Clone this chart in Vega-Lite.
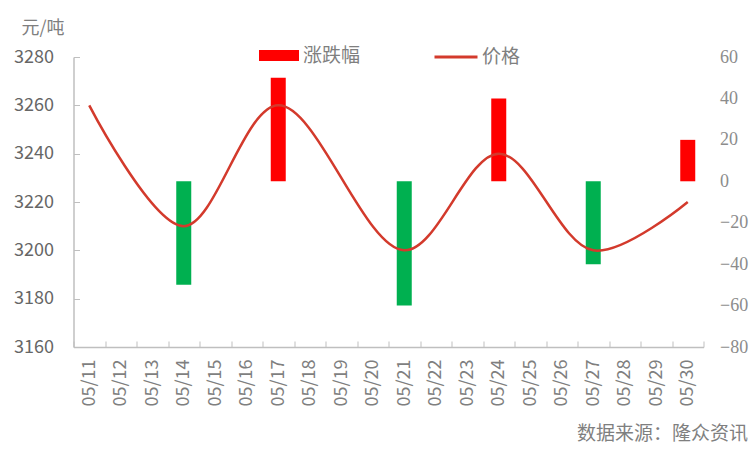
{
  "$schema": "https://vega.github.io/schema/vega-lite/v6.json",
  "width": 630,
  "height": 290,
  "autosize": {"type": "none"},
  "padding": {"left": 73.5, "top": 57, "right": 47.5, "bottom": 103},
  "config": {
    "view": {"stroke": null},
    "font": "Noto Sans CJK SC",
    "axis": {"grid": false, "labelColor": "#7f7f7f", "domainColor": "#bfbfbf", "tickColor": "#bfbfbf"}
  },
  "layer": [
    {
      "data": {
        "values": [
          {"date": "05/14", "chg": -50, "series": "涨跌幅"},
          {"date": "05/17", "chg": 50, "series": "涨跌幅"},
          {"date": "05/21", "chg": -60, "series": "涨跌幅"},
          {"date": "05/24", "chg": 40, "series": "涨跌幅"},
          {"date": "05/27", "chg": -40, "series": "涨跌幅"},
          {"date": "05/30", "chg": 20, "series": "涨跌幅"}
        ]
      },
      "mark": {"type": "bar", "width": 15},
      "encoding": {
        "x": {
          "field": "date",
          "type": "ordinal",
          "sort": null,
          "scale": {
            "domain": ["05/11", "05/12", "05/13", "05/14", "05/15", "05/16", "05/17", "05/18", "05/19", "05/20", "05/21", "05/22", "05/23", "05/24", "05/25", "05/26", "05/27", "05/28", "05/29", "05/30"],
            "paddingInner": 0,
            "paddingOuter": 0
          },
          "axis": {
            "title": "数据来源：隆众资讯",
            "titleFont": "Noto Sans CJK SC",
            "titleFontSize": 19,
            "titleFontWeight": "normal",
            "titleColor": "#7f7f7f",
            "titleAlign": "right",
            "titleBaseline": "alphabetic",
            "titleAngle": 0,
            "titleX": 674,
            "titleY": 92,
            "labelAngle": -90,
            "labelAlign": "right",
            "labelBaseline": "middle",
            "labelFontSize": 18,
            "labelPadding": 18,
            "tickBand": "extent",
            "tickSize": -6,
            "domainWidth": 1.5
          }
        },
        "y": {
          "field": "chg",
          "type": "quantitative",
          "scale": {"domain": [-80, 60], "nice": false},
          "axis": {
            "orient": "right",
            "title": null,
            "values": [-80, -60, -40, -20, 0, 20, 40, 60],
            "domain": false,
            "ticks": false,
            "labelFont": "Liberation Serif",
            "labelFontSize": 18,
            "labelColor": "#8c8c8c",
            "labelPadding": 16,
            "labelExpr": "replace(datum.label, '-', '−')"
          }
        },
        "fill": {
          "condition": {"test": "datum.chg < 0", "value": "#00b050"},
          "field": "series",
          "type": "nominal",
          "scale": {"domain": ["涨跌幅"], "range": ["#ff0000"]},
          "legend": {
            "title": null,
            "orient": "none",
            "legendX": 185.5,
            "legendY": -21.5,
            "padding": 0,
            "symbolType": "M-1,-0.275H1V0.275H-1Z",
            "symbolSize": 1600,
            "symbolStrokeWidth": 0,
            "labelFont": "Noto Sans CJK SC",
            "labelFontSize": 19,
            "labelColor": "#7f7f7f",
            "labelOffset": 4
          }
        }
      }
    },
    {
      "data": {
        "values": [
          {"date": "05/11", "price": 3260, "series": "价格"},
          {"date": "05/14", "price": 3210, "series": "价格"},
          {"date": "05/17", "price": 3260, "series": "价格"},
          {"date": "05/21", "price": 3200, "series": "价格"},
          {"date": "05/24", "price": 3240, "series": "价格"},
          {"date": "05/27", "price": 3200, "series": "价格"},
          {"date": "05/30", "price": 3220, "series": "价格"}
        ]
      },
      "mark": {"type": "line", "interpolate": "catmull-rom", "strokeWidth": 2.5},
      "encoding": {
        "x": {"field": "date", "type": "ordinal", "sort": null},
        "y": {
          "field": "price",
          "type": "quantitative",
          "scale": {"domain": [3160, 3280], "nice": false, "zero": false},
          "axis": {
            "orient": "left",
            "title": "元/吨",
            "titleFont": "Noto Sans CJK SC",
            "titleFontSize": 18,
            "titleFontWeight": "normal",
            "titleColor": "#7f7f7f",
            "titleAngle": 0,
            "titleAlign": "center",
            "titleBaseline": "middle",
            "titleX": -31,
            "titleY": -29,
            "values": [3160, 3180, 3200, 3220, 3240, 3260, 3280],
            "format": "d",
            "labelFontSize": 18,
            "labelColor": "#666666",
            "labelPadding": 26,
            "tickSize": -6,
            "domainWidth": 1.5
          }
        },
        "stroke": {
          "field": "series",
          "type": "nominal",
          "scale": {"domain": ["价格"], "range": ["#d33a2c"]},
          "legend": {
            "title": null,
            "orient": "none",
            "legendX": 359.5,
            "legendY": -23,
            "padding": 0,
            "symbolType": "stroke",
            "symbolSize": 1849,
            "symbolStrokeWidth": 3,
            "labelFont": "Noto Sans CJK SC",
            "labelFontSize": 19,
            "labelColor": "#7f7f7f",
            "labelOffset": 3
          }
        }
      }
    }
  ],
  "resolve": {"scale": {"y": "independent"}}
}
